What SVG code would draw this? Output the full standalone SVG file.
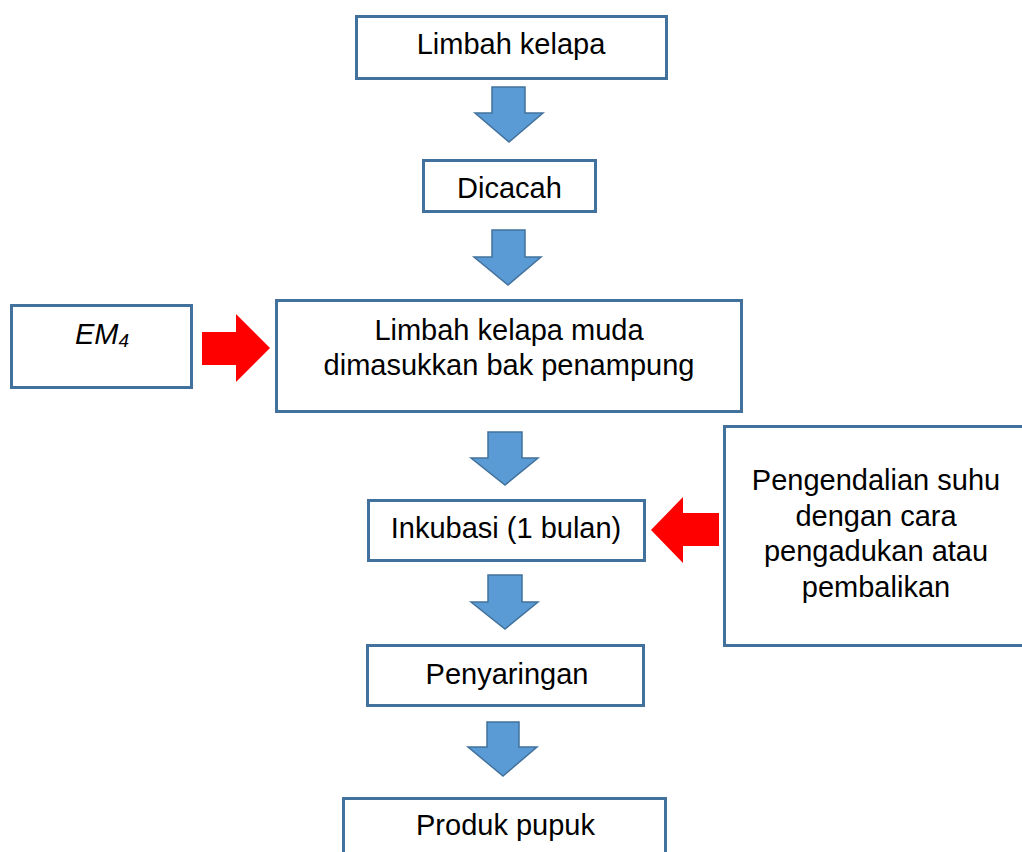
<svg xmlns="http://www.w3.org/2000/svg" width="1022" height="852" viewBox="0 0 1022 852">
<style>
.box{fill:#ffffff;stroke:#41719C;stroke-width:3}
.t{font-family:"Liberation Sans",Arial,sans-serif;font-size:29px;fill:#000000;text-anchor:middle}
.blue{fill:#5B9BD5;stroke:#41719C;stroke-width:1.5;stroke-linejoin:miter}
.red{fill:#FF0000;stroke:none}
</style>
<rect width="1022" height="852" fill="#ffffff"/>
<g id="connectors">
<polygon class="blue" points="492,87 525,87 525,113 543,113 509,142 475,113 492,113"/>
<polygon class="blue" points="492,230 525,230 525,257 541,257 508,285 474,257 492,257"/>
<polygon class="blue" points="488,432 522,432 522,458 538,458 505,485 471,458 488,458"/>
<polygon class="blue" points="488,575 522,575 522,602 538,602 505,629 471,602 488,602"/>
<polygon class="blue" points="487,722 519,722 519,747 537,747 503,776 468,747 487,747"/>
<polygon class="red" points="202,332 236,332 236,314 270,348 236,382 236,365 202,365"/>
<polygon class="red" points="719,513 683,513 683,497 651,530 683,563 683,546 719,546"/>
</g>
<g id="n1">
<rect class="box" x="356.5" y="16.5" width="310" height="62"/>
<text class="t" x="511" y="54">Limbah kelapa</text>
</g>
<g id="n2">
<rect class="box" x="423.5" y="160.5" width="172" height="51"/>
<text class="t" x="509.5" y="198">Dicacah</text>
</g>
<g id="em4">
<rect class="box" x="11.5" y="305.5" width="180" height="82"/>
<text class="t" x="102" y="344" font-style="italic">EM<tspan font-size="19" dy="3">4</tspan></text>
</g>
<g id="n3">
<rect class="box" x="276.5" y="300.5" width="465" height="111"/>
<text class="t" x="509" y="340">Limbah kelapa muda</text>
<text class="t" x="509" y="375">dimasukkan bak penampung</text>
</g>
<g id="n4">
<rect class="box" x="368.5" y="500.5" width="276" height="60"/>
<text class="t" x="506" y="538">Inkubasi (1 bulan)</text>
</g>
<g id="suhu">
<rect class="box" x="724.5" y="426.5" width="320" height="219"/>
<text class="t" x="876" y="490">Pengendalian suhu</text>
<text class="t" x="876" y="526">dengan cara</text>
<text class="t" x="876" y="561">pengadukan atau</text>
<text class="t" x="876" y="597">pembalikan</text>
</g>
<g id="n5">
<rect class="box" x="367.5" y="645.5" width="276" height="60"/>
<text class="t" x="507" y="684">Penyaringan</text>
</g>
<g id="n6">
<rect class="box" x="343.5" y="798.5" width="322" height="80"/>
<text class="t" x="505.5" y="835">Produk pupuk</text>
</g>
</svg>
